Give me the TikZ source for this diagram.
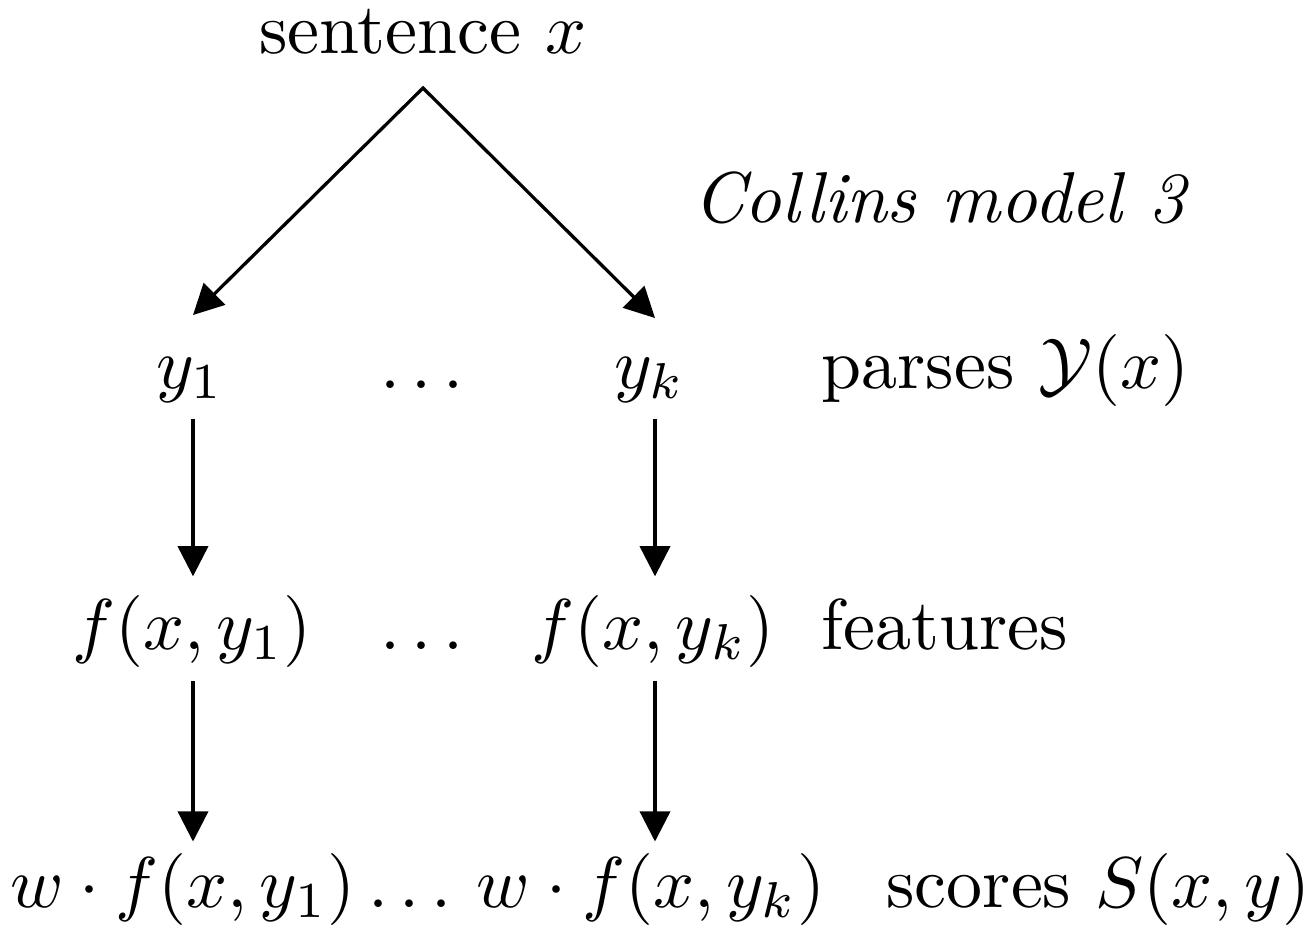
\documentclass[tikz,border=0pt]{standalone}
\usetikzlibrary{arrows.meta}
\begin{document}
\begin{tikzpicture}[x=0.13889pt,y=-0.13889pt,
  lbl/.style={inner sep=0pt, anchor=base},
  lblw/.style={inner sep=0pt, anchor=base west},
  tip/.tip={Triangle[length=4.2pt,width=4.2pt]},
  arr/.style={-tip, line width=0.45pt},
  arr2/.style={tip-tip, line width=0.45pt, line join=miter}]
\useasboundingbox (0,0) rectangle (1316,927);
\node[lbl] (s) at (423,53) {sentence $x$};
\node[lbl] (c) at (941,222) {\textit{Collins model 3}};
\node[lbl] (y1) at (190,388) {$y_1$};
\node[lbl] (d1) at (422,388) {$\ldots$};
\node[lbl] (yk) at (650,388) {$y_k$};
\node[lblw] (p) at (820,388) {parses $\mathcal{Y}(x)$};
\node[lbl] (f1) at (192,649) {$f(x,y_1)$};
\node[lbl] (d2) at (422,649) {$\ldots$};
\node[lbl] (fk) at (653,649) {$f(x,y_k)$};
\node[lblw] (fe) at (820,649) {features};
\node[lbl] (w1) at (183,907) {$w\cdot f(x,y_1)$};
\node[lbl] (d3) at (410,907) {$\ldots$};
\node[lbl] (wk) at (651,907) {$w\cdot f(x,y_k)$};
\node[lblw] (sc) at (885,907) {scores $S(x,y)$};
\coordinate (apex) at (s.south |- 0,88);
\coordinate (t1) at (193,315);
\coordinate (tk) at (655,318);
\draw[arr2] (t1) -- (apex) -- (tk);
\draw[arr, shorten <=2.1pt, shorten >=2.4pt] (y1.south -| t1) -- (f1.north -| t1);
\draw[arr, shorten <=2.1pt, shorten >=2.4pt] (yk.south -| tk) -- (fk.north -| tk);
\draw[arr, shorten <=1.8pt, shorten >=1.4pt] (f1.south -| t1) -- (w1.north -| t1);
\draw[arr, shorten <=1.8pt, shorten >=1.4pt] (fk.south -| tk) -- (wk.north -| tk);
\end{tikzpicture}
\end{document}
